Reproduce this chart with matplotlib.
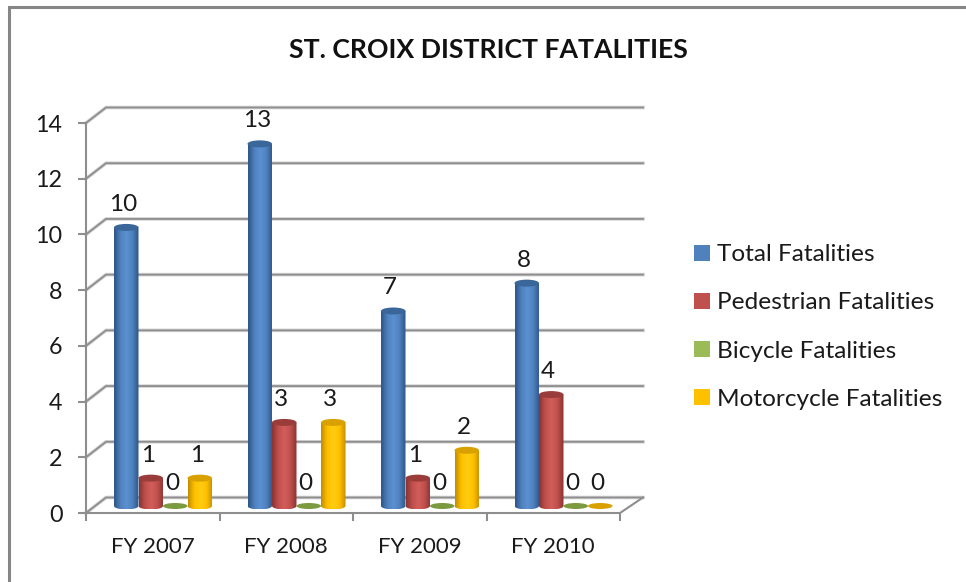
import numpy as np
import matplotlib
matplotlib.use('Agg')
import matplotlib.pyplot as plt
from matplotlib.colors import LinearSegmentedColormap
from matplotlib.lines import Line2D
from matplotlib.patches import Ellipse, Patch, PathPatch
from matplotlib.path import Path

plt.rcParams['font.family'] = ['Lato', 'DejaVu Sans']

# data
years = ['FY 2007', 'FY 2008', 'FY 2009', 'FY 2010']
total = [10, 13, 7, 8]
pedestrian = [1, 3, 1, 4]
bicycle = [0, 0, 0, 0]
motorcycle = [1, 3, 2, 0]
series_names = ['Total Fatalities', 'Pedestrian Fatalities', 'Bicycle Fatalities', 'Motorcycle Fatalities']

W, H = 966, 582
GREY = '#8e8e8e'
TXT = '#1a1a1a'
# colours: legend/main, edge, light, top
colors = [('#4f81bd', '#2f5688', '#5a90d2', '#3a6699'),
          ('#c0504d', '#8a3432', '#d25e5a', '#9a3d3a'),
          ('#9bbb59', '#6f8a3a', '#a6c864', '#7c9a3f'),
          ('#ffc000', '#c48f00', '#ffcc10', '#d9a100')]

fig = plt.figure(figsize=(W / 100, H / 100), dpi=100)
# axes = front plane of the fake 3d box
L, R, B, T = 86, 620, 513, 123
ax = fig.add_axes([L / W, 1 - B / H, (R - L) / W, (B - T) / H])
ax.patch.set_alpha(0)

# pixels to data units
xpx = 4 / (R - L)
ypx = 14 / (B - T)
back_x, back_xr, back_y = 20 * xpx, 23 * xpx, 15.5 * ypx

# back wall lines with a soft shadow
for v in range(0, 16, 2):
    xs = [0, back_x, 4 + back_xr]
    ys = [v, v + back_y, v + back_y]
    ax.plot(xs, ys, color='#d4d4d4', lw=2.6, clip_on=False, zorder=1, solid_joinstyle='miter')
    ax.plot(xs, ys, color=GREY, lw=1.3, clip_on=False, zorder=1.1, solid_joinstyle='miter')
ax.plot([4, 4 + back_xr], [0, back_y], color=GREY, lw=1.5, clip_on=False, zorder=1.1)

bar_w = 24.5 * xpx
start = 28 * xpx
base_y = 7 * ypx
ell_h = 7 * ypx

all_series = [total, pedestrian, bicycle, motorcycle]
for s, vals in enumerate(all_series):
    main, edge, light, top = colors[s]
    cmap = LinearSegmentedColormap.from_list('c', [edge, main, light, main, edge])
    grad = cmap(np.linspace(0, 1, 32)).reshape(1, 32, 4)
    for i, v in enumerate(vals):
        x0 = i + start + s * bar_w
        xc = x0 + bar_w / 2
        ytop = v + base_y
        if v > 0:
            im = ax.imshow(grad, extent=[x0, x0 + bar_w, base_y - ell_h / 2, ytop],
                           aspect='auto', zorder=3 + s * 0.1, interpolation='bilinear')
            # cylinder body, round at the bottom
            t = np.linspace(np.pi, 2 * np.pi, 20)
            bx = xc + bar_w / 2 * np.cos(t)
            by = base_y + ell_h / 2 * np.sin(t)
            verts = list(zip(bx, by)) + [(x0 + bar_w, ytop), (x0, ytop), (bx[0], by[0])]
            clip = PathPatch(Path(verts), transform=ax.transData, fc='none', ec='none')
            ax.add_patch(clip)
            im.set_clip_path(clip)
            ax.add_patch(Ellipse((xc, ytop), bar_w, ell_h, fc=top, ec='none',
                                 zorder=3.05 + s * 0.1, clip_on=False))
        else:
            ax.add_patch(Ellipse((xc, ytop), bar_w, 6 * ypx, fc=top, ec='none',
                                 zorder=3.05 + s * 0.1, clip_on=False))
        ax.annotate(str(v), (xc, ytop), xytext=(-3 * 0.72, 23 * 0.72), textcoords='offset points',
                    ha='center', va='center', fontsize=17.5, color=TXT, zorder=5,
                    annotation_clip=False)

ax.set_xlim(0, 4)
ax.set_ylim(0, 14)

# axes
for side in ['top', 'right']:
    ax.spines[side].set_visible(False)
for side in ['left', 'bottom']:
    ax.spines[side].set_color(GREY)
    ax.spines[side].set_linewidth(1.5)
ax.set_yticks(range(0, 16, 2))
ax.set_xticks(range(5))
ax.set_xticklabels([])
ax.set_xticks([i + 0.5 for i in range(4)], minor=True)
ax.set_xticklabels(years, minor=True)
ax.tick_params(axis='y', length=6, width=1.5, color=GREY, labelsize=16.8, labelcolor=TXT, pad=11)
ax.tick_params(axis='x', which='major', length=6, width=1.5, color=GREY)
ax.tick_params(axis='x', which='minor', length=0, labelsize=16, labelcolor=TXT, pad=17)

fig.text(488 / W, 1 - 50 / H, 'ST. CROIX DISTRICT FATALITIES', ha='center', va='center',
         fontsize=19.2, fontweight='bold', color='#111111')

handles = [Patch(fc=c[0], ec='none', label=n) for c, n in zip(colors, series_names)]
fig.legend(handles=handles, loc='center left', bbox_to_anchor=(694 / W, 1 - 327 / H),
           frameon=False, fontsize=17.6, labelcolor=TXT, handlelength=0.65, handleheight=0.65,
           handletextpad=0.29, labelspacing=1.11, borderaxespad=0, borderpad=0)

# outer chart frame, cut off by the image on the right and bottom
fig.add_artist(Line2D([9 / W, 9 / W, 1], [0, 1 - 7 / H, 1 - 7 / H], color='#868686', lw=2.2,
                      solid_joinstyle='miter'))

fig.savefig('out.png', dpi=100)
